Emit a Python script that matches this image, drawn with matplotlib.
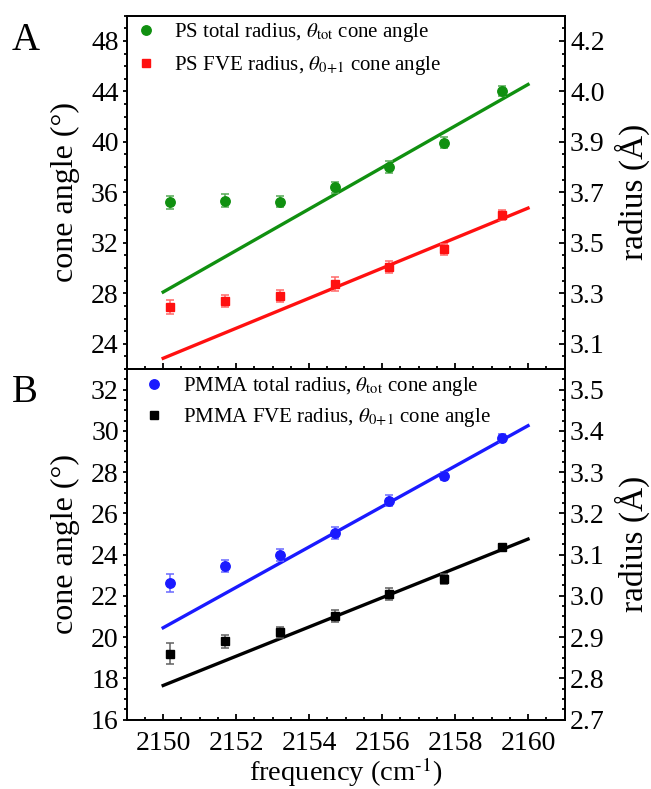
import matplotlib
matplotlib.use("Agg")
import matplotlib.pyplot as plt
from matplotlib.ticker import MultipleLocator
import numpy as np

plt.rcParams['font.family'] = ['Liberation Serif', 'DejaVu Serif']
plt.rcParams['mathtext.fontset'] = 'stix'

# ---------------- data ----------------
freq = [2150.2, 2151.7, 2153.2, 2154.7, 2156.2, 2157.7, 2159.3]

ps_total = [35.2, 35.35, 35.25, 36.4, 38.0, 39.95, 44.0]
ps_total_err = [0.5, 0.5, 0.45, 0.45, 0.45, 0.4, 0.4]
ps_fve = [26.9, 27.4, 27.8, 28.75, 30.1, 31.5, 34.2]
ps_fve_err = [0.53, 0.5, 0.49, 0.53, 0.46, 0.44, 0.42]

pmma_total = [22.62, 23.45, 23.97, 25.05, 26.62, 27.8, 29.65]
pmma_total_err = [0.43, 0.3, 0.28, 0.28, 0.25, 0.2, 0.2]
pmma_fve = [19.2, 19.8, 20.23, 21.02, 22.1, 22.82, 24.38]
pmma_fve_err = [0.5, 0.31, 0.28, 0.28, 0.28, 0.25, 0.15]

fit_x = [2150, 2160]
ps_total_fit = [28.1, 44.55]
ps_fve_fit = [22.85, 34.75]
pmma_total_fit = [20.45, 30.25]
pmma_fve_fit = [17.65, 24.75]

top_ticks = [24, 28, 32, 36, 40, 44, 48]
top_radius_labels = ['3.1', '3.3', '3.5', '3.7', '3.9', '4.0', '4.2']
bot_ticks = [16, 18, 20, 22, 24, 26, 28, 30, 32]
bot_radius_labels = ['2.7', '2.8', '2.9', '3.0', '3.1', '3.2', '3.3', '3.4', '3.5']
x_ticks = [2150, 2152, 2154, 2156, 2158, 2160]

labels_top = [r'PS total radius, $\theta_{\rm tot}$ cone angle',
              r'PS FVE radius, $\theta_{0\!+\!1}$ cone angle']
labels_bot = [r'PMMA total radius, $\theta_{\rm tot}$ cone angle',
              r'PMMA FVE radius, $\theta_{0\!+\!1}$ cone angle']

# ---------------- figure ----------------
W, H = 651, 789
fig = plt.figure(figsize=(W / 100, H / 100), dpi=100)
L, R = 126.7 / W, 564.5 / W
ax1 = fig.add_axes([L, 1 - 369 / H, R - L, (369 - 15.7) / H])
ax2 = fig.add_axes([L, 1 - 719.5 / H, R - L, (719.5 - 369) / H])

TICK = 20
LAB = 23
LW = 1.3

def style(ax, ylim, yticks, ymin, rlabels):
    ax.set_xlim(2149, 2161)
    ax.set_ylim(*ylim)
    ax.set_xticks(x_ticks)
    ax.xaxis.set_minor_locator(MultipleLocator(0.5))
    ax.set_yticks(yticks)
    ax.yaxis.set_minor_locator(MultipleLocator(ymin))
    for s in ax.spines.values():
        s.set_linewidth(LW)
    ax.tick_params(axis='x', which='both', direction='in', top=False,
                   width=LW, labelsize=TICK, pad=8)
    ax.tick_params(axis='x', which='major', length=4.5)
    ax.tick_params(axis='x', which='minor', length=2.5)
    ax.tick_params(axis='y', which='both', direction='out', right=False,
                   width=LW, labelsize=TICK, pad=2.5)
    ax.tick_params(axis='y', which='major', length=3.2)
    ax.tick_params(axis='y', which='minor', length=2.0)
    ax.set_ylabel('cone angle (°)', fontsize=LAB)
    axr = ax.twinx()
    axr.set_ylim(*ylim)
    axr.set_yticks(yticks)
    axr.set_yticklabels(rlabels)
    axr.yaxis.set_minor_locator(MultipleLocator(ymin))
    axr.tick_params(axis='y', which='both', direction='in', width=LW,
                    labelsize=TICK, pad=4)
    axr.tick_params(axis='y', which='major', length=4.2)
    axr.tick_params(axis='y', which='minor', length=2.4)
    axr.set_ylabel('radius (Å)', fontsize=LAB + 1)
    for s in axr.spines.values():
        s.set_linewidth(LW)
    return axr

axr1 = style(ax1, (22, 50), top_ticks, 1, top_radius_labels)
axr2 = style(ax2, (16, 33), bot_ticks, 0.5, bot_radius_labels)
ax1.tick_params(axis='x', labelbottom=False)
ax2.set_xlabel(r'frequency (cm$^{\text{-1}}$)', fontsize=20.5)
ax2.xaxis.label.set_va('baseline')
ax2.xaxis.set_label_coords(0.5, -(781 - 719.5) / 350.5)

def series(ax, y, err, fit, color, ecolor, marker, ms, label):
    ax.plot(fit_x, fit, color=color, lw=2.4, zorder=2)
    ax.errorbar(freq, y, yerr=err, fmt=marker, color=color, ms=ms,
                ecolor=ecolor, elinewidth=1.1, capsize=2.6, capthick=1.1,
                mec=color, zorder=3, label=label)

series(ax1, ps_total, ps_total_err, ps_total_fit, '#109010', '#55aa55', 'o', 6.8, labels_top[0])
series(ax1, ps_fve, ps_fve_err, ps_fve_fit, '#ff1010', '#ff6a6a', 's', 6.0, labels_top[1])
series(ax2, pmma_total, pmma_total_err, pmma_total_fit, '#1a1aff', '#6a6aff', 'o', 6.8, labels_bot[0])
series(ax2, pmma_fve, pmma_fve_err, pmma_fve_fit, '#000000', '#606060', 's', 6.0, labels_bot[1])

for ax, anchor, ls in ((ax1, (0.0196, 0.985), 0.5), (ax2, (0.0386, 0.983), 0.4)):
    h, l = ax.get_legend_handles_labels()
    h = [hh[0] for hh in h]
    ax.legend(h, l, loc='upper left', bbox_to_anchor=anchor, frameon=False,
              fontsize=15, handlelength=1.0, handletextpad=0.87,
              labelspacing=ls, borderaxespad=0.0, borderpad=0.0,
              markerscale=1.0)

ax1.yaxis.set_label_coords(-0.107, 0.5)
ax2.yaxis.set_label_coords(-0.107, 0.5)
axr1.yaxis.set_label_coords(1.115, 0.5)
axr2.yaxis.set_label_coords(1.115, 0.5)

fig.text(12 / W, 1 - 40 / H, 'A', fontsize=28, va='center', ha='left')
fig.text(12 / W, 1 - 392 / H, 'B', fontsize=28, va='center', ha='left')

fig.savefig('out.png', dpi=100)
